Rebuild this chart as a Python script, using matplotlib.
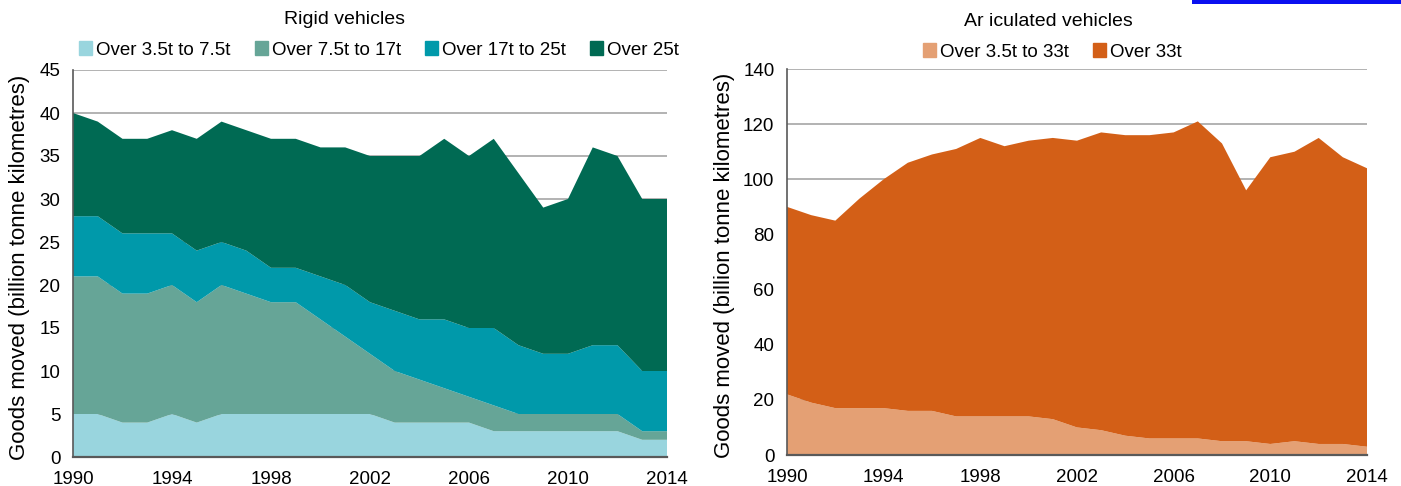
import matplotlib.pyplot as plt
import numpy as np

plt.rcParams['font.family'] = ['Liberation Sans', 'DejaVu Sans']

years = list(range(1990, 2015))

# Rigid vehicles (billion tonne km), stacked bottom to top
rigid_labels = ['Over 3.5t to 7.5t', 'Over 7.5t to 17t', 'Over 17t to 25t', 'Over 25t']
rigid_35_75 = [5, 5, 4, 4, 5, 4, 5, 5, 5, 5, 5, 5, 5, 4, 4, 4, 4, 3, 3, 3, 3, 3, 3, 2, 2]
rigid_75_17 = [16, 16, 15, 15, 15, 14, 15, 14, 13, 13, 11, 9, 7, 6, 5, 4, 3, 3, 2, 2, 2, 2, 2, 1, 1]
rigid_17_25 = [7, 7, 7, 7, 6, 6, 5, 5, 4, 4, 5, 6, 6, 7, 7, 8, 8, 9, 8, 7, 7, 8, 8, 7, 7]
rigid_25 = [12, 11, 11, 11, 12, 13, 14, 14, 15, 15, 15, 16, 17, 18, 19, 21, 20, 22, 20, 17, 18, 23, 22, 20, 20]
rigid_colors = ['#99D5DE', '#66A597', '#0099AA', '#006A53']

# Articulated vehicles
artic_labels = ['Over 3.5t to 33t', 'Over 33t']
artic_35_33 = [22, 19, 17, 17, 17, 16, 16, 14, 14, 14, 14, 13, 10, 9, 7, 6, 6, 6, 5, 5, 4, 5, 4, 4, 3]
artic_33 = [68, 68, 68, 76, 83, 90, 93, 97, 101, 98, 100, 102, 104, 108, 109, 110, 111, 115, 108, 91, 104, 105, 111, 104, 101]
artic_colors = ['#E4A074', '#D35F17']

fig = plt.figure(figsize=(14.01, 4.86), dpi=100)
W, H = 1401, 486
ax1 = fig.add_axes([73 / W, 1 - 457 / H, (667 - 73) / W, (457 - 70) / H])
ax2 = fig.add_axes([787 / W, 1 - 455 / H, (1367 - 787) / W, (455 - 69) / H])

# cropped header strip in the source image
fig.add_artist(plt.Rectangle((1192 / W, 1 - 4 / H), (W - 1192) / W, 4 / H,
                             transform=fig.transFigure, color='#0A10F0', lw=0))


def style(ax, ymax, ystep, title, title_xy, labels, colors, legend_xy, ylab_x):
    ax.set_xlim(1990, 2014)
    ax.set_ylim(0, ymax)
    ax.set_yticks(np.arange(0, ymax + 1, ystep))
    ax.set_xticks(range(1990, 2015, 4))
    ax.yaxis.grid(True, color='#A6A6A6', linewidth=1.2)
    ax.set_axisbelow(True)
    for s in ['top', 'right']:
        ax.spines[s].set_visible(False)
    ax.spines['left'].set_color('#595959')
    ax.spines['bottom'].set_color('#595959')
    ax.spines['left'].set_linewidth(1.2)
    ax.spines['bottom'].set_linewidth(1.6)
    ax.tick_params(length=0, labelsize=13.5)
    ax.tick_params(axis='x', pad=10)
    ax.tick_params(axis='y', pad=9)
    ax.set_ylabel('Goods moved (billion tonne kilometres)', fontsize=16)
    ax.yaxis.set_label_coords(ylab_x, 0.49)
    fig.text(title_xy[0] / W, 1 - title_xy[1] / H, title, fontsize=14,
             ha='center', va='center')
    handles = [plt.Rectangle((0, 0), 1, 1, color=c) for c in colors]
    fig.legend(handles, labels, loc='center',
               bbox_to_anchor=(legend_xy[0] / W, 1 - legend_xy[1] / H),
               ncol=len(labels), frameon=False, fontsize=13.5, handlelength=0.7,
               handleheight=0.7, handletextpad=0.2, columnspacing=1.3,
               borderpad=0)


ax1.stackplot(years, rigid_35_75, rigid_75_17, rigid_17_25, rigid_25,
              colors=rigid_colors, linewidth=0)
style(ax1, 45, 5, 'Rigid vehicles', (345, 20), rigid_labels, rigid_colors,
      (379, 50), -0.072)

ax2.stackplot(years, artic_35_33, artic_33, colors=artic_colors, linewidth=0)
style(ax2, 140, 20, 'Ar iculated vehicles', (1048, 22), artic_labels, artic_colors,
      (1052, 52), -0.09)

fig.savefig('out.png', dpi=100, facecolor='white')
